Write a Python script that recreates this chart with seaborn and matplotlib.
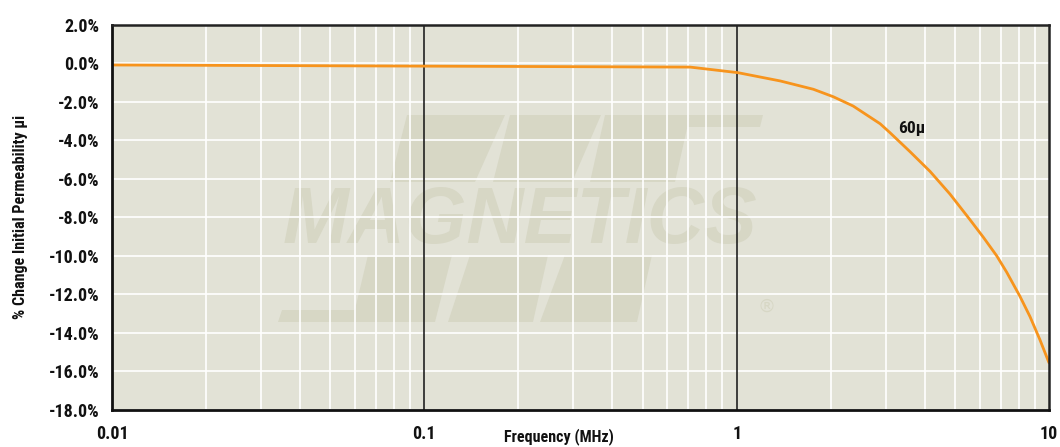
import matplotlib
matplotlib.use("Agg")
import matplotlib.pyplot as plt
import seaborn as sns
import pandas as pd
import numpy as np
from matplotlib.patches import Polygon
from matplotlib.ticker import NullFormatter, LogLocator

# ---- data ----
freq_mhz = [0.01, 0.1, 0.71, 1.01, 1.38, 1.76, 2.04, 2.36, 2.88, 3.10, 3.59, 4.16,
            4.82, 5.58, 6.17, 6.80, 7.32, 8.07, 8.69, 9.35, 10.0]
change_pct = [-0.10, -0.16, -0.21, -0.50, -0.93, -1.36, -1.75, -2.23, -3.15, -3.62,
              -4.60, -5.62, -6.80, -8.12, -9.05, -10.0, -10.85, -12.1, -13.15, -14.35, -15.55]
series_label = "60\u03bc"
x_ticks = [0.01, 0.1, 1, 10]
x_tick_labels = ["0.01", "0.1", "1", "10"]
y_ticks = [2, 0, -2, -4, -6, -8, -10, -12, -14, -16, -18]
y_tick_labels = ["2.0%", "0.0%", "-2.0%", "-4.0%", "-6.0%", "-8.0%", "-10.0%",
                 "-12.0%", "-14.0%", "-16.0%", "-18.0%"]

df = pd.DataFrame({"freq": freq_mhz, "change": change_pct})

sns.set_theme(style="white")
FONT = ["Liberation Sans Narrow", "Roboto Condensed", "DejaVu Sans"]
plt.rcParams["font.family"] = FONT

W, H = 1060, 447
fig = plt.figure(figsize=(W / 100, H / 100), dpi=100)
L, R, T, B = 112, 1049, 24.5, 410
ax = fig.add_axes([L / W, 1 - B / H, (R - L) / W, (B - T) / H])

bg = "#e2e2d6"
ax.set_facecolor(bg)

# ---- watermark (decoration) ----
wm = "#d7d7c5"
def px2ax(x, y):
    return ((x - L) / (R - L), (B - y) / (B - T))

def para(x_top0, x_top1, x_bot0, x_bot1, y_top, y_bot):
    pts = [px2ax(x_top0, y_top), px2ax(x_top1, y_top), px2ax(x_bot1, y_bot), px2ax(x_bot0, y_bot)]
    ax.add_patch(Polygon(pts, closed=True, transform=ax.transAxes, facecolor=wm,
                         edgecolor="none", zorder=0.2))

# top band
para(407, 505, 390, 475, 115, 182)
para(510, 601, 493, 572, 115, 182)
para(605, 690, 590, 675, 115, 182)
para(690, 763, 687, 760, 115, 127)
# bottom band
para(368, 452, 352, 435, 255, 322)
para(282, 368, 278, 364, 310, 322)
para(470, 548, 448, 533, 255, 322)
para(565, 652, 540, 637, 255, 322)

ax.text(*px2ax(520, 223), "MAGNETICS", transform=ax.transAxes, ha="center", va="center",
        fontsize=57, fontweight="bold", fontstyle="italic", color=wm,
        family=["Liberation Sans", "DejaVu Sans"], zorder=0.3)
ax.text(*px2ax(767, 307), "\u00ae", transform=ax.transAxes, ha="center", va="center",
        fontsize=13, color=wm, family=["DejaVu Sans"], zorder=0.3)

# ---- data line ----
sns.lineplot(data=df, x="freq", y="change", ax=ax, color="#f7941d", linewidth=2.0,
             zorder=5, legend=False)

ax.set_xscale("log")
ax.set_xlim(0.01, 10)
ax.set_ylim(-18, 2)

# grids
ax.xaxis.set_minor_locator(LogLocator(base=10, subs=np.arange(2, 10)))
ax.xaxis.set_minor_formatter(NullFormatter())
ax.grid(which="minor", axis="x", color="white", linewidth=1.2, zorder=1)
for yv in y_ticks:
    ax.axhline(yv, color="white", linewidth=1.2, zorder=1)
for xv in x_ticks[1:-1]:
    ax.axvline(xv, color="#111111", linewidth=1.1, zorder=2)

ax.set_xticks(x_ticks)
ax.set_xticklabels(x_tick_labels)
ax.set_yticks(y_ticks)
ax.set_yticklabels(y_tick_labels)

ax.tick_params(axis="both", which="major", direction="out", length=6, width=1.2,
               color="#222222", labelsize=13, labelcolor="#111111", pad=3)
ax.tick_params(axis="x", which="minor", length=0)
ax.tick_params(axis="x", which="major", pad=5)
for lab in ax.get_xticklabels() + ax.get_yticklabels():
    lab.set_fontweight("bold")

for side in ["left", "bottom"]:
    ax.spines[side].set_linewidth(2.0)
    ax.spines[side].set_color("#111111")
for side in ["top", "right"]:
    ax.spines[side].set_linewidth(1.8)
    ax.spines[side].set_color("#222222")
    ax.spines[side].set_visible(True)
for s in ax.spines.values():
    s.set_zorder(6)

ax.set_xlabel("")
ax.set_ylabel("% Change Initial Permeability \u03bci", fontsize=11.5, fontweight="bold",
              color="#111111", labelpad=15)
fig.text(559 / W, 1 - 437 / H, "Frequency (MHz)", ha="center", va="center",
         fontsize=11.5, fontweight="bold", color="#111111")

ax.text(3.3, -3.4, series_label, ha="left", va="center", fontsize=12.5,
        fontweight="bold", color="#111111", zorder=7)

fig.savefig("out.png", dpi=100)
